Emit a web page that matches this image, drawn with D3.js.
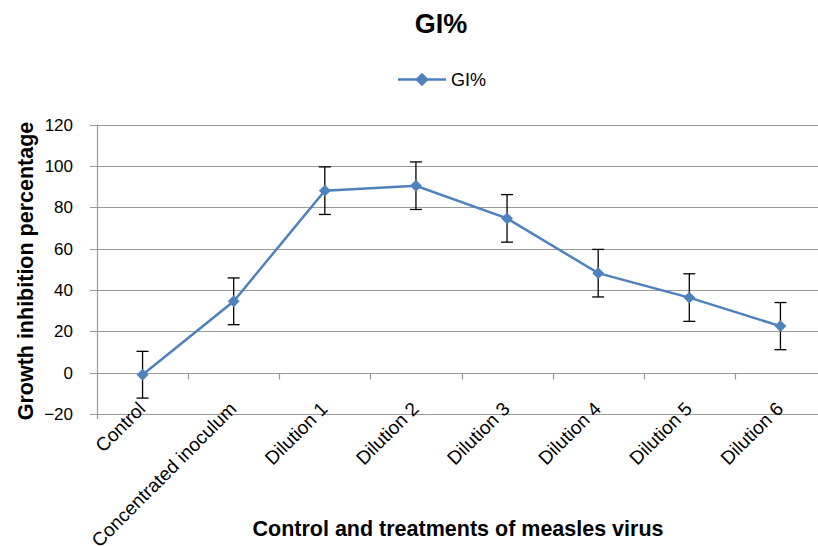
<!DOCTYPE html>
<html><head><meta charset="utf-8">
<script src="https://cdn.jsdelivr.net/npm/d3@7/dist/d3.min.js"></script>
<style>body{margin:0;background:#fff}svg{display:block;font-family:"Liberation Sans",Arial,sans-serif}</style>
</head><body><svg id="c" width="818" height="546"></svg>
<script>
const categories = ["Control","Concentrated inoculum","Dilution 1","Dilution 2","Dilution 3","Dilution 4","Dilution 5","Dilution 6"];
const values = [-1, 34.5, 88, 90.4, 74.6, 48.1, 36.3, 22.5];
const errors = [11.3, 11.3, 11.5, 11.5, 11.5, 11.5, 11.5, 11.4];
const yTicks = [-20, 0, 20, 40, 60, 80, 100, 120];

const svg = d3.select("#c");
const L = 97, R = 826, T = 124.5, B = 414;
const x = d3.scaleBand().domain(categories).range([L, R]);
const y = d3.scaleLinear().domain([-20, 120]).range([B, T]);
const cx = c => x(c) + x.bandwidth() / 2;

// gridlines
svg.append("g").selectAll("line").data(yTicks).join("line")
  .attr("x1", L - 7).attr("x2", R).attr("y1", d => Math.round(y(d)) + 0.5).attr("y2", d => Math.round(y(d)) + 0.5)
  .attr("stroke", "#9a9a9a").attr("stroke-width", 1.2);
// y axis line
svg.append("line").attr("x1", L + 0.5).attr("x2", L + 0.5).attr("y1", T).attr("y2", B + 5)
  .attr("stroke", "#9a9a9a").attr("stroke-width", 1.2);
// y tick labels
svg.append("g").selectAll("text").data(yTicks).join("text")
  .attr("x", 73).attr("y", d => y(d) + 6).attr("text-anchor", "end")
  .attr("font-size", 17).attr("fill", "#000")
  .text(d => d < 0 ? "\u2212" + Math.abs(d) : d);

// category axis at 0 with ticks between categories
const y0 = Math.round(y(0)) + 0.5;
const bounds = d3.range(1, categories.length).map(i => L + i * x.step());
svg.append("g").selectAll("line").data(bounds).join("line")
  .attr("x1", d => Math.round(d) + 0.5).attr("x2", d => Math.round(d) + 0.5)
  .attr("y1", y0).attr("y2", y0 + 6).attr("stroke", "#9a9a9a").attr("stroke-width", 1.2);

// x labels
svg.append("g").selectAll("text").data(categories).join("text")
  .attr("transform", d => `translate(${cx(d) + 4},${B - 4}) rotate(-45)`)
  .attr("text-anchor", "end").attr("font-size", 19).attr("fill", "#000").text(d => d);

// error bars
const eb = svg.append("g").attr("stroke", "#000").attr("stroke-width", 1.3);
categories.forEach((c, i) => {
  const px = cx(c);
  eb.append("line").attr("x1", px).attr("x2", px).attr("y1", y(values[i] + errors[i])).attr("y2", y(values[i] - errors[i]));
  [values[i] + errors[i], values[i] - errors[i]].forEach(v => {
    eb.append("line").attr("x1", px - 6).attr("x2", px + 6).attr("y1", y(v)).attr("y2", y(v));
  });
});

// line
const color = "#4f81bd";
svg.append("path").datum(values)
  .attr("d", d3.line().x((d, i) => cx(categories[i])).y(d => y(d)))
  .attr("fill", "none").attr("stroke", color).attr("stroke-width", 2.5);
const diamond = d3.symbol().type(d3.symbolDiamond2).size(90);
svg.append("g").selectAll("path").data(values).join("path")
  .attr("transform", (d, i) => `translate(${cx(categories[i])},${y(d)})`)
  .attr("d", diamond).attr("fill", color);

// title
svg.append("text").attr("x", 441).attr("y", 33).attr("text-anchor", "middle")
  .attr("font-size", 27).attr("font-weight", "bold").text("GI%");
// legend
svg.append("line").attr("x1", 398).attr("x2", 446).attr("y1", 79.5).attr("y2", 79.5).attr("stroke", color).attr("stroke-width", 2.5);
svg.append("path").attr("transform", "translate(422,79.5)").attr("d", d3.symbol().type(d3.symbolDiamond2).size(115)).attr("fill", color);
svg.append("text").attr("x", 451).attr("y", 86).attr("font-size", 18).text("GI%");

// axis titles
svg.append("text").attr("x", 458).attr("y", 536).attr("text-anchor", "middle")
  .attr("font-size", 21.5).attr("font-weight", "bold").text("Control and treatments of measles virus");
svg.append("text").attr("transform", "translate(33,271) rotate(-90)").attr("text-anchor", "middle")
  .attr("font-size", 21.5).attr("font-weight", "bold").text("Growth inhibition percentage");
</script></body></html>
